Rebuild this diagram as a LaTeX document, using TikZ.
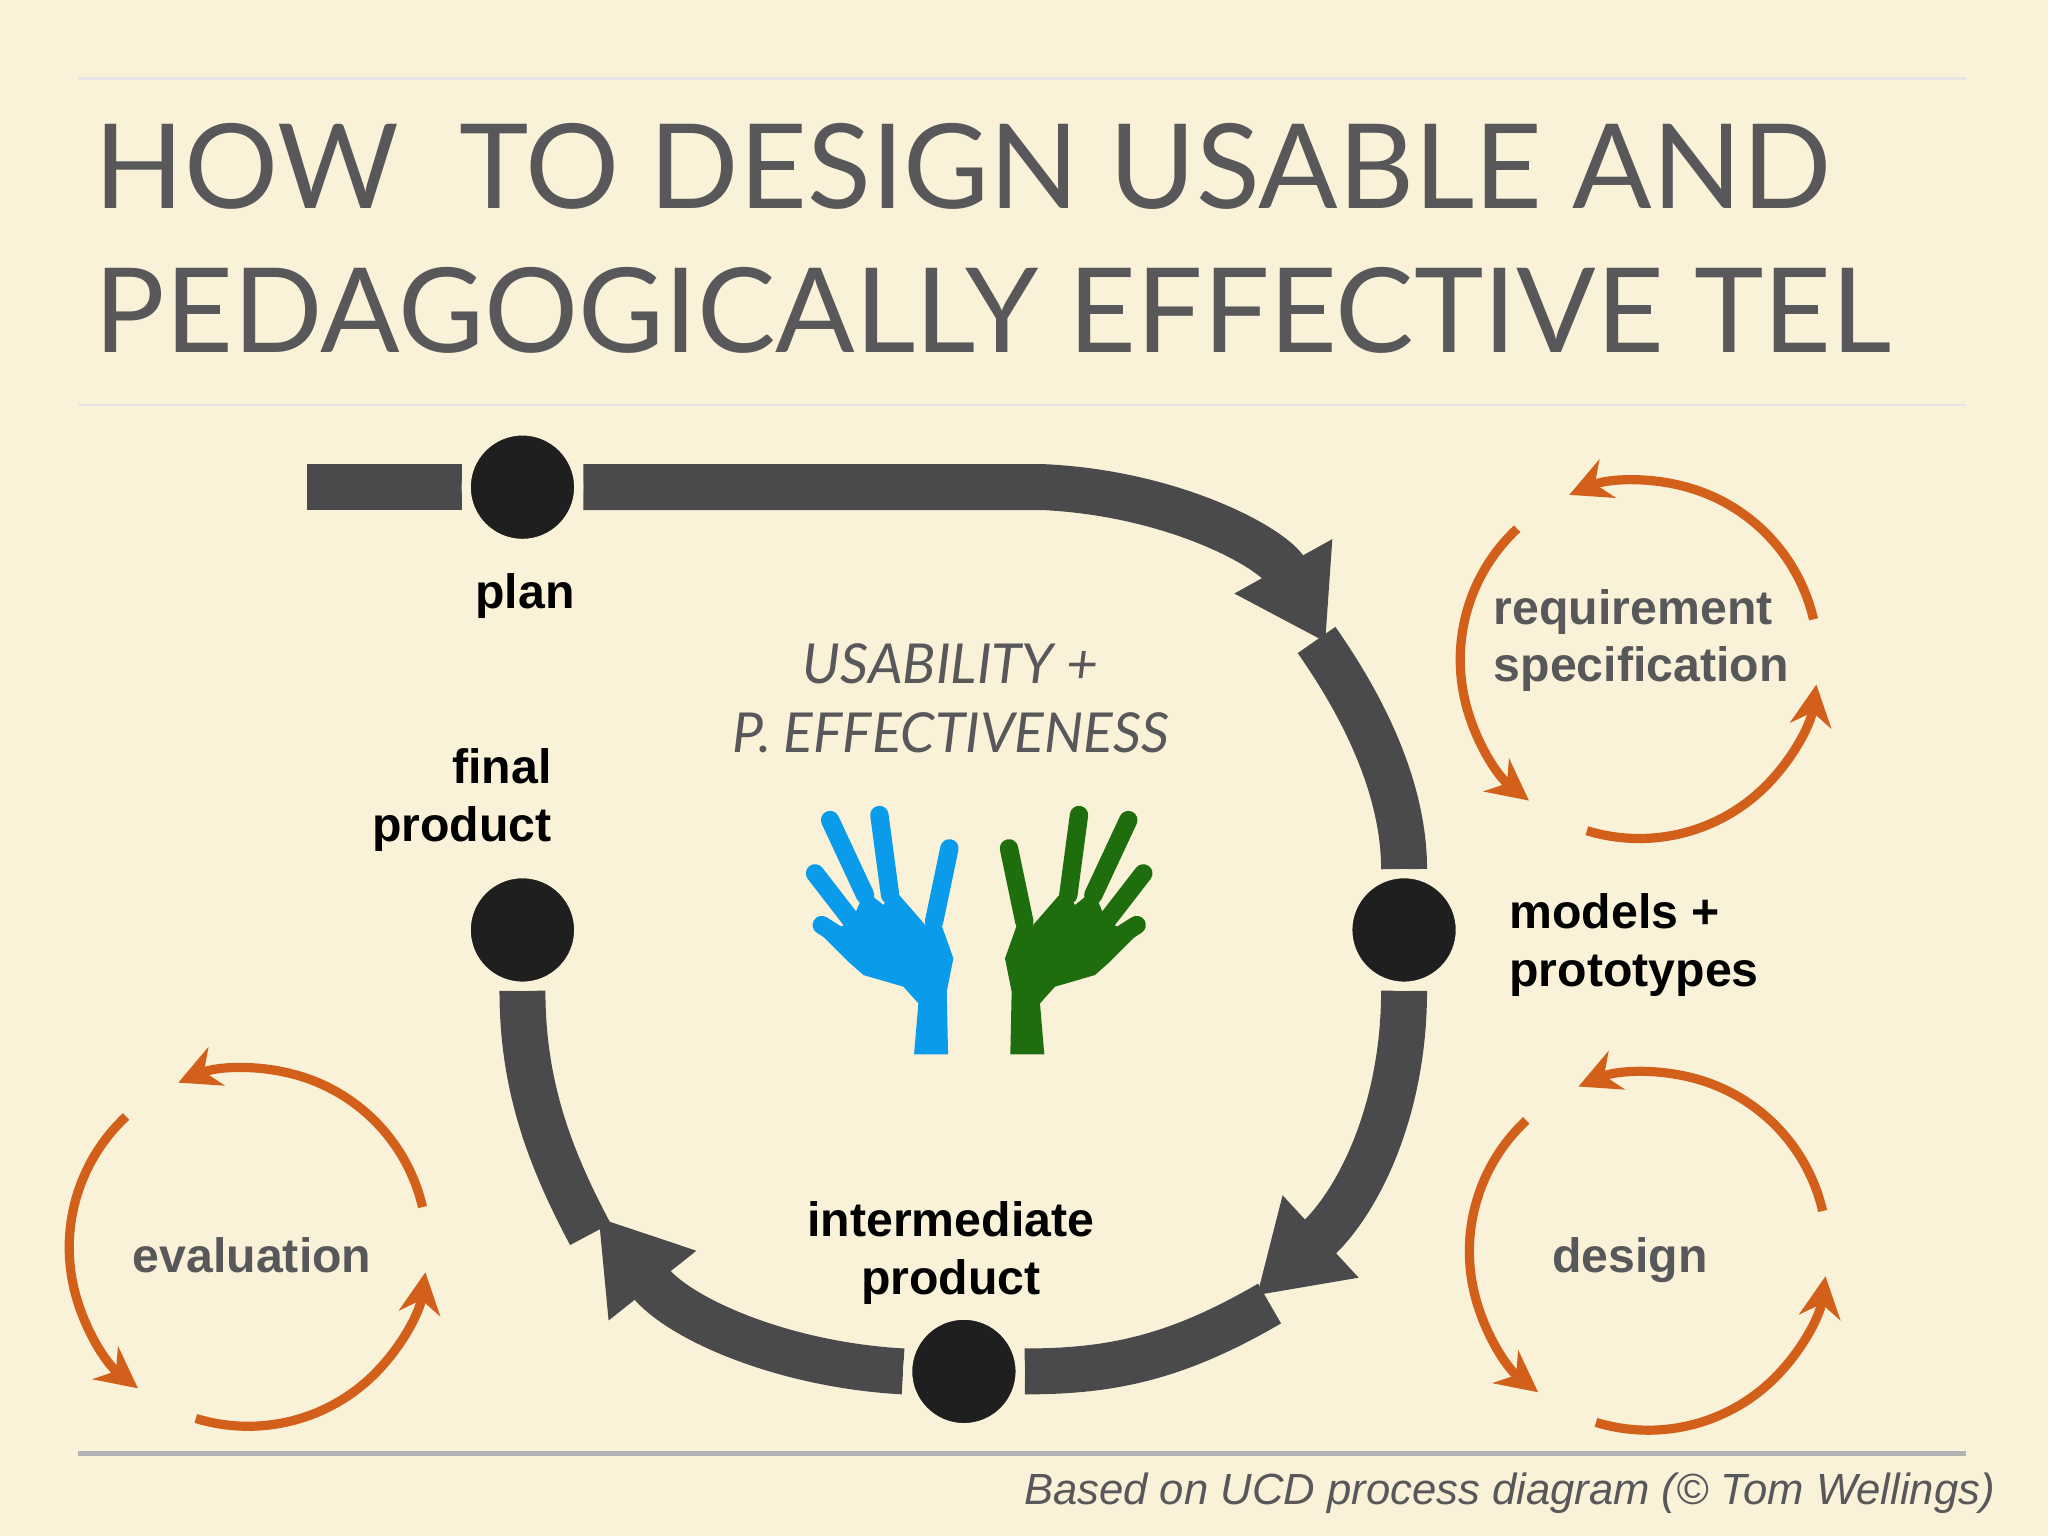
\documentclass[tikz,border=0pt]{standalone}
\usepackage{fontspec}
\setmainfont{Liberation Sans}
\newfontfamily\titlefont{Lato}
\usetikzlibrary{arrows.meta,calc}
\definecolor{bg}{HTML}{F9F1D8}
\definecolor{dk}{HTML}{4A4A4C}
\definecolor{org}{HTML}{D2601A}
\definecolor{tx}{HTML}{58585A}
\definecolor{hb}{HTML}{0A9BEB}
\definecolor{hg}{HTML}{1F6E0E}
\begin{document}
\begin{tikzpicture}[x=0.01cm,y=-0.01cm,
  flow/.style={dk,line width=10pt},
  flowar/.style={flow,-{Triangle[length=19pt,width=23pt]}},
  stage/.style={circle,fill=black!88,draw=bg,line width=2pt,minimum size=24.5pt,inner sep=0pt},
  lbl/.style={font=\bfseries\fontsize{10.5}{12.5}\selectfont,align=left,inner sep=0pt},
  cyc/.style={org,line width=2pt,-{Stealth[length=9pt,width=9pt]}},
  cyclbl/.style={lbl,text=tx},
  finger/.style={line width=4pt,line cap=round}]
\fill[bg] (0,0) rectangle (1568,1176);
\useasboundingbox (0,0) rectangle (1568,1176);
\draw[black!10,line width=0.5pt] (60,60)--(1505,60) (60,310)--(1505,310);
\draw[black!30,line width=1pt] (60,1113)--(1505,1113);
\node[anchor=base west,inner sep=0pt,text=tx,font=\titlefont\fontsize{25.6}{30}\selectfont] (t1) at (72,160) {HOW\ \ TO DESIGN USABLE AND};
\node[anchor=base west,inner sep=0pt,text=tx,font=\titlefont\fontsize{25.6}{30}\selectfont] (t2) at (72,270) {PEDAGOGICALLY EFFECTIVE TEL};
% flow
\coordinate (s0) at (235,373);
\node[stage] (plan) at (400,373) {};
\node[stage] (fin) at (400,712) {};
\node[stage] (mod) at (1075,712) {};
\node[stage] (int) at (738,1050) {};
\draw[flow] (s0) -- (plan.west);
\coordinate (a1) at (1015,492);
\coordinate (b1) at (1008,490);
\coordinate (a2) at (962,992);
\coordinate (b2) at (972,998);
\coordinate (a3) at (458,932);
\coordinate (b3) at (452,945);
\draw[flowar] (plan.east) -- (800,373) .. controls (900,378) and (975,420) .. (a1);
\draw[flow] (b1) .. controls (1050,550) and (1075,610) .. (mod.north);
\draw[flowar] (mod.south) .. controls (1075,850) and (1040,920) .. (a2);
\draw[flow] (b2) .. controls (900,1040) and (850,1050) .. (int.east);
\draw[flowar] (int.west) .. controls (600,1045) and (520,1010) .. (a3);
\draw[flow] (b3) .. controls (420,885) and (400,830) .. (fin.south);
\node[stage] at (plan) {};
\node[stage] at (fin) {};
\node[stage] at (mod) {};
\node[stage] at (int) {};
% labels
\node[lbl,anchor=base] (lplan) at (402,466) {plan};
\node[lbl,anchor=base east,align=right] (lfin) at (423,644) {final\\product};
\node[lbl,anchor=base west] (lmod) at (1155,755) {models +\\prototypes};
\node[lbl,anchor=base,align=center] (lint) at (728,991) {intermediate\\product};
% cycles
\foreach \cx/\cy/\nm in {1255/505/req,1262/958/des,190/955/eva}{
  \coordinate (\nm) at (\cx,\cy);
  \draw[cyc] ($(\nm)+(-13:137)$) arc[start angle=-13,end angle=-113,radius=137];
  \draw[cyc] ($(\nm)+(-133:137)$) arc[start angle=-133,end angle=-232,radius=137];
  \draw[cyc] ($(\nm)+(-253:137)$) arc[start angle=-253,end angle=-352,radius=137];
}
\node[cyclbl,anchor=base west] (lreq) at (1143,522) {requirement\\specification};
\node[cyclbl,anchor=base] (ldes) at (1248,974) {design};
\node[cyclbl,anchor=base] (leva) at (193,974) {evaluation};
% center text
\node[anchor=base,text=tx,font=\titlefont\itshape\fontsize{12}{15}\selectfont,inner sep=0pt] (u1) at (728,523) {USABILITY +};
\node[anchor=base,text=tx,font=\titlefont\itshape\fontsize{12}{15}\selectfont,inner sep=0pt] (u2) at (728,576) {P. EFFECTIVENESS};
% hands
\begin{scope}[shift={(604.9,608.7)},scale=0.2552]
\fill[hb] (225,285)--(280,330)--(310,280)--(410,395)--(440,350)--(490,490)--(470,590)--(474,778)--(372,778)--(385,625)--(340,575)--(220,540)--(175,500)--(95,420)--(185,380)--cycle;
\draw[hb,finger] (120,75)--(225,300) (268,60)--(300,300) (478,160)--(432,380) (75,235)--(195,390) (95,390)--(190,450);
\end{scope}
\begin{scope}[shift={(894.5,608.7)},xscale=-0.2552,yscale=0.2552]
\fill[hg] (225,285)--(280,330)--(310,280)--(410,395)--(440,350)--(490,490)--(470,590)--(474,778)--(372,778)--(385,625)--(340,575)--(220,540)--(175,500)--(95,420)--(185,380)--cycle;
\draw[hg,finger] (120,75)--(225,300) (268,60)--(300,300) (478,160)--(432,380) (75,235)--(195,390) (95,390)--(190,450);
\end{scope}
\node[anchor=base east,text=tx,font=\itshape\fontsize{9.5}{12}\selectfont,inner sep=0pt] (foot) at (1528,1152) {Based on UCD process diagram (© Tom Wellings)};
\end{tikzpicture}
\end{document}
